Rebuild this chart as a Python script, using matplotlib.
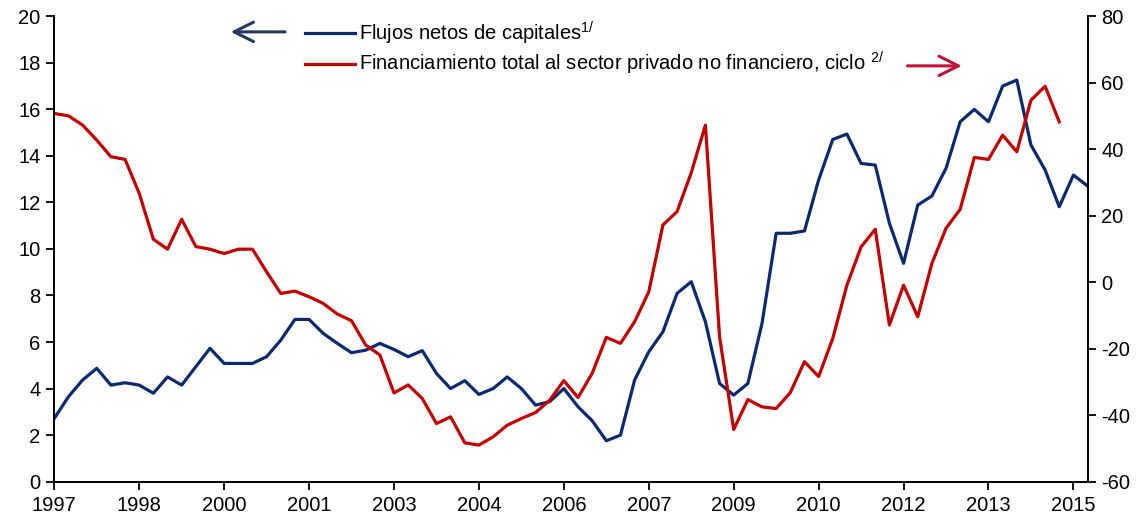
import numpy as np
import matplotlib.pyplot as plt

plt.rcParams['font.family'] = ['Liberation Sans', 'DejaVu Sans']
plt.rcParams['mathtext.fontset'] = 'custom'
plt.rcParams['mathtext.rm'] = 'Liberation Sans'
plt.rcParams['axes.unicode_minus'] = False

# quarterly series starting 1997Q1
start_year = 1997
# net capital flows (left axis)
flujos = [2.72, 3.65, 4.37, 4.87, 4.15, 4.25, 4.15, 3.80, 4.50, 4.15,
          4.94, 5.73, 5.08, 5.08, 5.08, 5.37, 6.08, 6.97, 6.97, 6.37,
          5.94, 5.54, 5.65, 5.94, 5.68, 5.37, 5.63, 4.65, 4.00, 4.34,
          3.75, 4.00, 4.50, 4.00, 3.29, 3.44, 4.00, 3.22, 2.62, 1.76,
          2.00, 4.37, 5.58, 6.44, 8.09, 8.59, 6.87, 4.22, 3.72, 4.22,
          6.80, 10.67, 10.67, 10.77, 12.96, 14.70, 14.93, 13.67, 13.60, 11.10,
          9.38, 11.88, 12.27, 13.46, 15.46, 15.99, 15.46, 16.99, 17.25, 14.46,
          13.39, 11.81, 13.17, 12.70]
# total financing to private non-financial sector, cycle (right axis)
financiamiento = [50.7, 50.0, 47.2, 42.7, 37.7, 36.9, 26.7, 12.9, 9.9, 18.9,
                  10.7, 9.9, 8.6, 9.9, 9.9, 3.1, -3.4, -2.7, -4.4, -6.4,
                  -9.6, -11.6, -18.9, -21.9, -33.3, -30.9, -35.0, -42.5, -40.5, -48.3,
                  -49.0, -46.5, -43.0, -41.0, -39.2, -35.5, -29.6, -34.7, -27.4, -16.6,
                  -18.4, -11.9, -2.9, 17.2, 21.2, 32.9, 47.2, -16.4, -44.3, -35.3,
                  -37.5, -38.0, -33.2, -23.9, -28.4, -16.9, -0.9, 10.6, 15.9, -12.9,
                  -0.9, -10.4, 5.6, 16.2, 21.9, 37.5, 36.9, 44.2, 39.2, 54.7,
                  58.9, 48.2]

label_flujos = r'Flujos netos de capitales$^{\mathrm{1/}}$'
label_fin = r'Financiamiento total al sector privado no financiero, ciclo $^{\mathrm{2/}}$'

blue = '#0B2A6E'
red = '#C00000'

fig = plt.figure(figsize=(11.43, 5.31), dpi=100)
ax = fig.add_axes([0.0475, 0.0928, 0.904, 0.877])
ax2 = ax.twinx()

q1 = np.arange(len(flujos))
q2 = np.arange(len(financiamiento))
l1, = ax.plot(q1, flujos, color=blue, lw=2.3, label=label_flujos)
l2, = ax2.plot(q2, financiamiento, color=red, lw=2.3, label=label_fin)

ax.set_xlim(0, len(flujos) - 1)
ax.set_ylim(0, 20)
ax.set_yticks(np.arange(0, 21, 2))
ax2.set_ylim(-60, 80)
ax2.set_yticks(np.arange(-60, 81, 20))

ticks = np.arange(0, len(flujos), 6)
ax.set_xticks(ticks)
ax.set_xticklabels([str(start_year + t // 4) for t in ticks])

for a in (ax, ax2):
    a.spines['top'].set_visible(False)
    for s in ('left', 'right', 'bottom'):
        a.spines[s].set_linewidth(1.3)
    a.tick_params(labelsize=14.5, width=1.3, length=6, direction='out', pad=4)

leg = ax.legend(handles=[l1, l2], loc='upper left', bbox_to_anchor=(0.225, 1.031),
                frameon=False, fontsize=14.5, handlelength=2.5, handletextpad=0.2,
                labelspacing=0.15)

# direction arrows
arrow_style = '->,head_length=1.4,head_width=0.7'
ax.annotate('', xy=(0.168, 0.966), xytext=(0.226, 0.966), xycoords='axes fraction',
            arrowprops=dict(arrowstyle=arrow_style, color='#23395D', lw=2.2))
ax.annotate('', xy=(0.881, 0.893), xytext=(0.823, 0.893), xycoords='axes fraction',
            arrowprops=dict(arrowstyle=arrow_style, color='#C0143C', lw=2.2))

fig.savefig('out.png', dpi=100)
